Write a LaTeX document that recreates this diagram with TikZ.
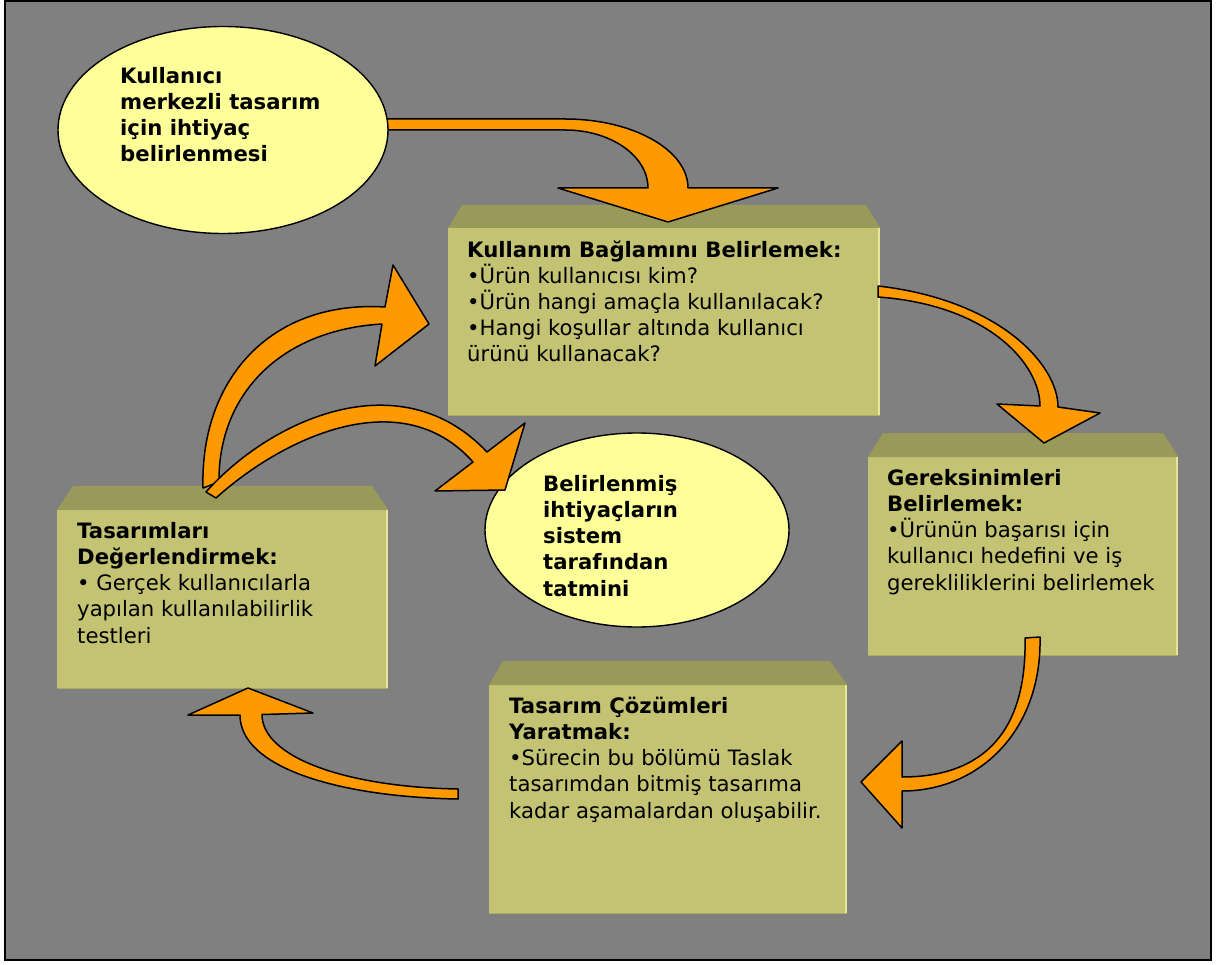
\documentclass[tikz,border=0pt]{standalone}
\usepackage{fontspec}
\setmainfont{DejaVu Sans}
\usetikzlibrary{shapes.geometric}
\definecolor{canvas}{HTML}{808080}
\definecolor{face}{HTML}{C3C373}
\definecolor{bevel}{HTML}{999959}
\definecolor{edgehi}{HTML}{E6E699}
\definecolor{edgelo}{HTML}{ABAB62}
\definecolor{bubble}{HTML}{FFFF99}
\definecolor{flow}{HTML}{FF9900}

\begin{document}
\begin{tikzpicture}[x=1pt,y=-1pt,
  boxface/.style={fill=face, draw=none, inner sep=0pt, anchor=north west},
  bevelface/.style={fill=bevel},
  rightedge/.style={draw=edgehi, line width=2pt},
  bottomedge/.style={draw=edgelo, line width=1.5pt},
  bubblenode/.style={ellipse, draw=black, line width=1.4pt, fill=bubble, inner sep=0pt},
  flowarrow/.style={fill=flow, draw=black, line width=1.5pt, line join=round},
  % texts are placed by the baseline of their last line
  txt/.style={anchor=base west, align=left, inner sep=0pt,
    font=\fontsize{21.2}{26.1}\selectfont, text=black},
  boldtxt/.style={txt, font=\fontsize{21.2}{26.2}\selectfont\bfseries},
]
\useasboundingbox (0,0) rectangle (1231,965);
\fill[white] (0,0) rectangle (1231,965);
\draw[fill=canvas, line width=2pt] (5,1.5) rectangle (1211,960);

% olive boxes with a bevelled top
\node[boxface, minimum width=432pt, minimum height=187pt] (ctx) at (448,228) {};
\fill[bevelface] (ctx.north west) -- (462,205) -- (866,205) -- (ctx.north east) -- cycle;
\draw[bottomedge] (ctx.south west) -- (ctx.south east);
\draw[rightedge] ([xshift=-1pt]ctx.north east) -- ([xshift=-1pt]ctx.south east);

\node[boxface, minimum width=310pt, minimum height=198pt] (req) at (868,457) {};
\fill[bevelface] (req.north west) -- (883,433) -- (1163,433) -- (req.north east) -- cycle;
\draw[bottomedge] (req.south west) -- (req.south east);
\draw[rightedge] ([xshift=-1pt]req.north east) -- ([xshift=-1pt]req.south east);

\node[boxface, minimum width=358pt, minimum height=228pt] (sol) at (489,685) {};
\fill[bevelface] (sol.north west) -- (503,661) -- (830,661) -- (sol.north east) -- cycle;
\draw[bottomedge] (sol.south west) -- (sol.south east);
\draw[rightedge] ([xshift=-1pt]sol.north east) -- ([xshift=-1pt]sol.south east);

\node[boxface, minimum width=331pt, minimum height=178pt] (eval) at (57,510) {};
\fill[bevelface] (eval.north west) -- (73,486) -- (372,486) -- (eval.north east) -- cycle;
\draw[bottomedge] (eval.south west) -- (eval.south east);
\draw[rightedge] ([xshift=-1pt]eval.north east) -- ([xshift=-1pt]eval.south east);

% goal bubble in the middle
\node[bubblenode, minimum width=304pt, minimum height=194pt] (goal) at (637,530) {};

% curved block arrows
\draw[flowarrow] (380,119) -- (565,119) .. controls (633,119) and (688,150) .. (688,188)
  -- (778,188) -- (668,222) -- (558,188) -- (648,188)
  .. controls (648,156) and (611,130) .. (565,130) -- (380,130) -- cycle;

\draw[flowarrow] (878,286) .. controls (1000,300) and (1058,365) .. (1058,407)
  -- (1100,413) -- (1044,443) -- (997,404) -- (1040,406)
  .. controls (1040,365) and (990,305) .. (878,297) -- cycle;

\draw[flowarrow] (1025,638) -- (1040,637) .. controls (1042,730) and (980,791) .. (902,791)
  -- (902,828) -- (861,782) -- (902,741) -- (902,777)
  .. controls (985,777) and (1027,730) .. (1025,638) -- cycle;

\draw[flowarrow] (458,789) -- (458,799) .. controls (340,797) and (240,768) .. (240,715)
  -- (188,715) -- (248,688) -- (313,713) -- (262,714.5)
  .. controls (262,757) and (345,787) .. (458,789) -- cycle;

\draw[flowarrow] (203,488) .. controls (200,380) and (270,300) .. (385,307)
  -- (393,265) -- (429,324) -- (375,366) -- (382,324)
  .. controls (280,330) and (218,395) .. (219,482) -- cycle;

\draw[flowarrow] (206,492) .. controls (270,420) and (400,360) .. (487,452)
  -- (525,423) -- (505,490) -- (435,491) -- (473,462)
  .. controls (400,380) and (280,440) .. (216,498) -- cycle;

% starting bubble
\node[bubblenode, minimum width=330pt, minimum height=207pt] (need) at (223,130) {};

% texts
\node[boldtxt] (needtext) at (120,162)
  {Kullanıcı\\merkezli tasarım\\için ihtiyaç\\belirlenmesi};
\node[boldtxt] (goaltext) at (543,596)
  {Belirlenmiş\\ihtiyaçların\\sistem\\tarafından\\tatmini};
\node[txt] (ctxtext) at (467,362)
  {\textbf{Kullanım Bağlamını Belirlemek:}\\•Ürün kullanıcısı kim?\\•Ürün hangi amaçla kullanılacak?\\•Hangi koşullar altında kullanıcı\\ürünü kullanacak?};
\node[txt] (reqtext) at (887,590)
  {\textbf{Gereksinimleri}\\\textbf{Belirlemek:}\\•Ürünün başarısı için\\kullanıcı hedefini ve iş\\gerekliliklerini belirlemek};
\node[txt] (soltext) at (509,818)
  {\textbf{Tasarım Çözümleri}\\\textbf{Yaratmak:}\\•Sürecin bu bölümü Taslak\\tasarımdan bitmiş tasarıma\\kadar aşamalardan oluşabilir.};
\node[txt] (evaltext) at (77,643)
  {\textbf{Tasarımları}\\\textbf{Değerlendirmek:}\\• Gerçek kullanıcılarla\\yapılan kullanılabilirlik\\testleri};
\end{tikzpicture}
\end{document}
